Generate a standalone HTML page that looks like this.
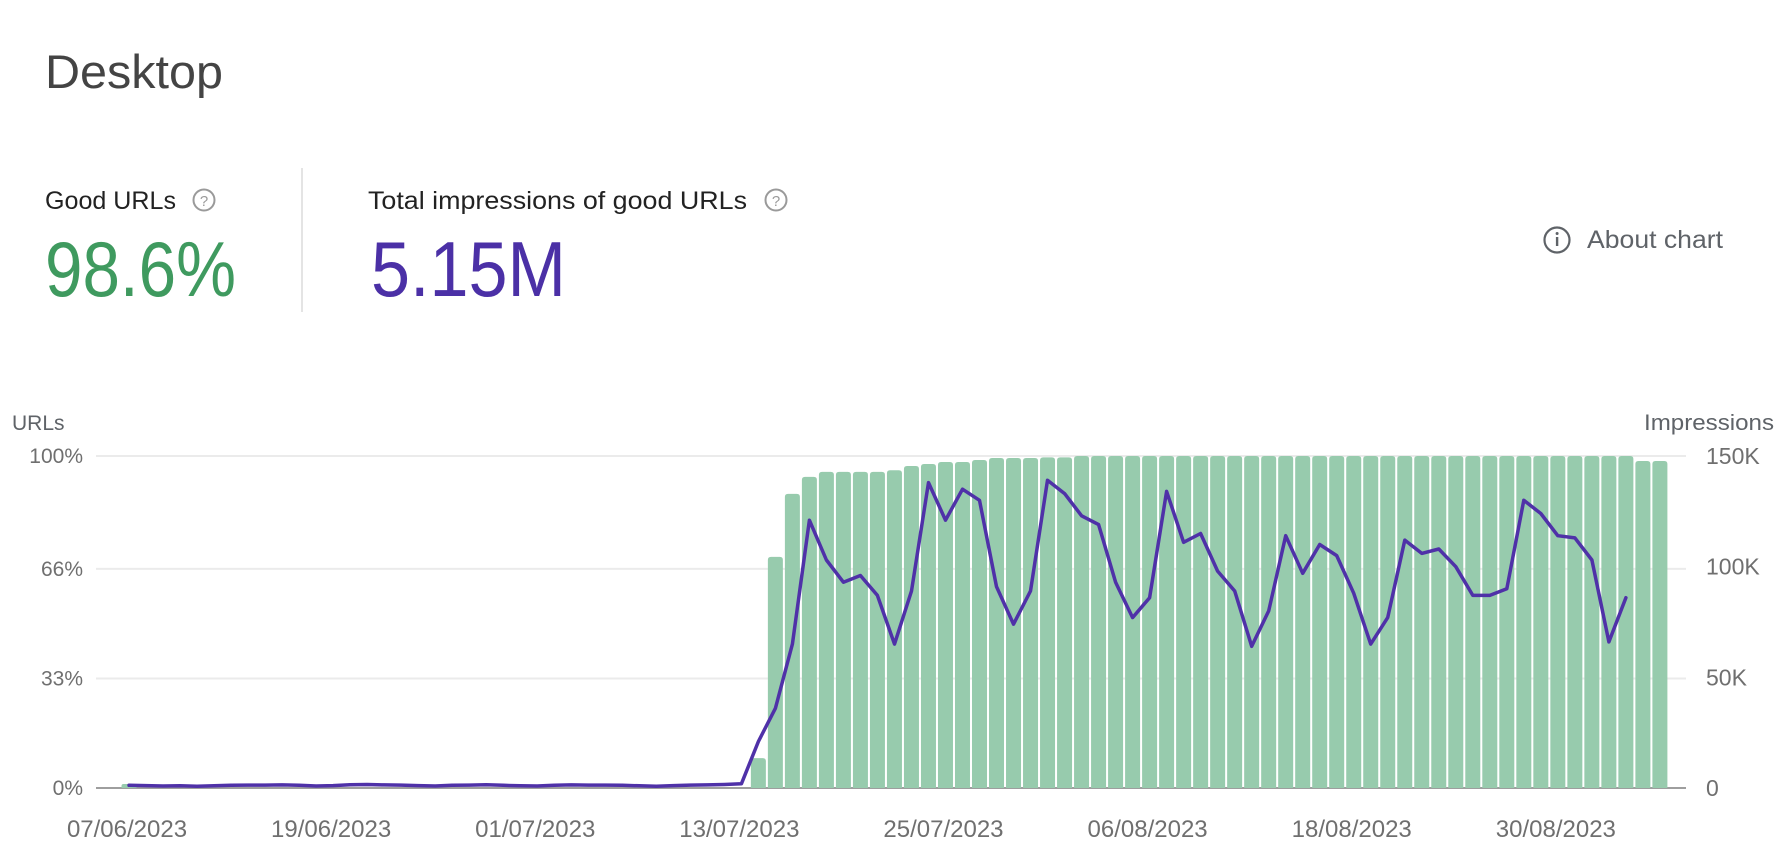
<!DOCTYPE html>
<html><head><meta charset="utf-8"><style>
html,body{margin:0;padding:0;background:#fff;width:1780px;height:862px;overflow:hidden}
svg{display:block;font-family:"Liberation Sans",Arial,sans-serif}
</style></head><body>
<svg id="chart" width="1780" height="862" viewBox="0 0 1780 862">
  <text x="45" y="88" font-size="47" fill="#444" textLength="178" lengthAdjust="spacingAndGlyphs">Desktop</text>

  <g>
    <text x="45" y="209" font-size="25" fill="#222" textLength="131" lengthAdjust="spacingAndGlyphs">Good URLs</text>
    <g>
      <circle cx="204" cy="200" r="10.5" fill="none" stroke="#9a9a9a" stroke-width="2"/>
      <text x="204" y="206" font-size="15" fill="#9a9a9a" text-anchor="middle">?</text>
    </g>
    <text x="45" y="296" font-size="78" fill="#3f9a5f" textLength="191" lengthAdjust="spacingAndGlyphs">98.6%</text>
  </g>
  <line x1="302" y1="168" x2="302" y2="312" stroke="#dcdcdc" stroke-width="1.5"/>
  <g>
    <text x="368" y="209" font-size="25" fill="#222" textLength="379" lengthAdjust="spacingAndGlyphs">Total impressions of good URLs</text>
    <g>
      <circle cx="776" cy="200" r="10.5" fill="none" stroke="#9a9a9a" stroke-width="2"/>
      <text x="776" y="206" font-size="15" fill="#9a9a9a" text-anchor="middle">?</text>
    </g>
    <text x="371" y="296" font-size="78" fill="#4b30a6" textLength="195" lengthAdjust="spacingAndGlyphs">5.15M</text>
  </g>
  <g>
    <circle cx="1557" cy="240" r="12.5" fill="none" stroke="#5f6368" stroke-width="2.2"/>
    <rect x="1555.9" y="237" width="2.4" height="9" fill="#5f6368"/>
    <circle cx="1557.1" cy="233.5" r="1.5" fill="#5f6368"/>
    <text x="1587" y="248" font-size="25" fill="#5f6368" textLength="136" lengthAdjust="spacingAndGlyphs">About chart</text>
  </g>

  <text x="12" y="430" font-size="21" fill="#5f6368">URLs</text>
  <text x="1774" y="430" font-size="22" fill="#5f6368" text-anchor="end" textLength="130" lengthAdjust="spacingAndGlyphs">Impressions</text>
  <g id="grid"></g>
  <g id="bars"></g>
  <g id="line"></g>
  <g id="ticks"></g>
</svg>
<script>
const xTickLabels = ["07/06/2023","19/06/2023","01/07/2023","13/07/2023","25/07/2023","06/08/2023","18/08/2023","30/08/2023"];
const xTickDays = [0,12,24,36,48,60,72,84];
const leftTicks = [0,33,66,100];
const leftTickLabels = ["0%","33%","66%","100%"];
const rightTicks = [0,50000,100000,150000];
const rightTickLabels = ["0","50K","100K","150K"];
const goodUrlPct = [
  1.2,0,0,0,0,0,0,0,0,0,
  0,0,0,0,0,0,0,0,0,0,
  0,0,0,0,0,0,0,0,0,0,
  0,0,0,0,0,0,0,9,69.6,88.6,
  93.7,95.2,95.2,95.2,95.2,95.7,97.0,97.6,98.2,98.2,
  98.8,99.4,99.4,99.4,99.6,99.6,100,100,100,100,
  100,100,100,100,100,100,100,100,100,100,
  100,100,100,100,100,100,100,100,100,100,
  100,100,100,100,100,100,100,100,100,98.5,
  98.5];
const impressions = [
  1200,1100,900,1000,800,1000,1200,1300,1300,1400,
  1200,900,1100,1500,1600,1400,1300,1100,900,1200,
  1300,1500,1200,1000,900,1200,1400,1300,1300,1200,
  1000,800,1100,1300,1400,1600,1900,21000,36000,65000,
  121000,103000,93000,96000,87000,65000,89000,138000,121000,135000,
  130000,91000,74000,89000,139000,133000,123000,119000,93000,77000,
  86000,134000,111000,115000,98000,89000,64000,80000,114000,97000,
  110000,105000,88000,65000,77000,112000,106000,108000,100000,87000,
  87000,90000,130000,124000,114000,113000,103000,66000,86000];

const NS = "http://www.w3.org/2000/svg";
const plotL = 96, plotR = 1686, y0 = 788, y100 = 456;
const x0 = 129, dayW = 17.01, barW = 15;
const xScale = d => x0 + d * dayW;
const yLeft = v => y0 - (v / 100) * (y0 - y100);
const yRight = v => y0 - (v / 150000) * (y0 - y100);
function mk(tag, attrs, parent){const e=document.createElementNS(NS,tag);for(const k in attrs)e.setAttribute(k,attrs[k]);parent.appendChild(e);return e;}

const grid = document.getElementById('grid');
leftTicks.forEach((t,i)=>{
  if(t===0) return;
  const g = mk('line',{x1:plotL,x2:plotR,y1:yLeft(t),y2:yLeft(t),stroke:'#ebebeb','stroke-width':2},grid);
  
  
});

const bars = document.getElementById('bars');
goodUrlPct.forEach((v,i)=>{
  if(v<=0) return;
  const top = yLeft(v), h = y0 - top, x = xScale(i) - barW/2;
  const r = Math.min(3, h/2);
  const p = mk('path',{d:`M${x},${y0} L${x},${top+r} Q${x},${top} ${x+r},${top} L${x+barW-r},${top} Q${x+barW},${top} ${x+barW},${top+r} L${x+barW},${y0} Z`,fill:'#97cbad'},bars);
  
  
});

const ax = mk('line',{x1:plotL,x2:plotR,y1:y0,y2:y0,stroke:'#9e9e9e','stroke-width':2},grid);



const lineG = document.getElementById('line');
const pts = impressions.map((v,i)=>xScale(i).toFixed(1)+','+yRight(v).toFixed(1)).join(' ');
const pl = mk('polyline',{points:pts,fill:'none',stroke:'#4f31a8','stroke-width':3.5,'stroke-linejoin':'round','stroke-linecap':'round'},lineG);



const ticks = document.getElementById('ticks');
leftTicks.forEach((t,i)=>{
  const e = mk('text',{x:83,y:yLeft(t)+7,'font-size':21,fill:'#6f6f6f','text-anchor':'end'},ticks);
  e.textContent = leftTickLabels[i];
  
  
});
rightTicks.forEach((t,i)=>{
  const e = mk('text',{x:1706,y:yRight(t)+8,'font-size':23,fill:'#6f6f6f'},ticks);
  e.textContent = rightTickLabels[i];
  
  
});
xTickDays.forEach((d,i)=>{
  const e = mk('text',{x:xScale(d)-2,y:837,'font-size':24,fill:'#6f6f6f','text-anchor':'middle'},ticks);
  e.textContent = xTickLabels[i];
  
  
});
</script>
</body></html>
